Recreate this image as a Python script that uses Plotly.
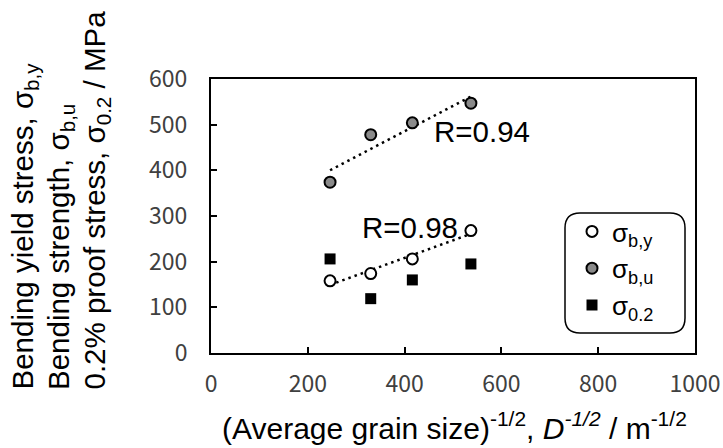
import numpy as np
import plotly.graph_objects as go

# Data
x_vals = [246, 330, 416, 537]
sigma_by = [158, 174, 206, 268]     # bending yield stress (open circles)
sigma_bu = [374, 478, 504, 547]     # bending strength (grey circles)
sigma_02 = [206, 119, 160, 195]     # 0.2% proof stress (black squares)
legend_names = ["σ<sub>b,y</sub>", "σ<sub>b,u</sub>", "σ<sub>0.2</sub>"]
x_ticks = [0, 200, 400, 600, 800, 1000]
y_ticks = [0, 100, 200, 300, 400, 500, 600]

W, H = 723, 448
L, R, T, B = 211, 28, 79, 95
PW, PH = W - L - R, H - T - B

def px_x(p):
    return (p - L) / PW

def px_y(p):
    return (H - B - p) / PH

TXT = "Liberation Sans, Arial, sans-serif"
TICKF = "Noto Sans CJK JP, sans-serif"
FS = 29.5

fig = go.Figure()

xs = np.array(x_vals, dtype=float)
xl = np.array([xs.min(), xs.max()])
for ys in (sigma_bu, sigma_by):
    k, b = np.polyfit(xs, np.array(ys, dtype=float), 1)
    fig.add_trace(go.Scatter(x=xl, y=k * xl + b, mode="lines",
                             line=dict(color="black", width=2.5, dash="2.5px,4px"),
                             showlegend=False, hoverinfo="skip"))

fig.add_trace(go.Scatter(x=x_vals, y=sigma_by, mode="markers", name=legend_names[0],
                         marker=dict(symbol="circle", size=11, color="white",
                                     line=dict(color="black", width=2))))
fig.add_trace(go.Scatter(x=x_vals, y=sigma_bu, mode="markers", name=legend_names[1],
                         marker=dict(symbol="circle", size=11, color="#8a8a8a",
                                     line=dict(color="black", width=2))))
fig.add_trace(go.Scatter(x=x_vals, y=sigma_02, mode="markers", name=legend_names[2],
                         marker=dict(symbol="square", size=11, color="black",
                                     line=dict(color="black", width=0))))

# rounded legend frame
x0, x1 = px_x(565), px_x(685)
y0, y1 = px_y(333), px_y(213)
rx, ry = 15 / PW, 15 / PH
path = (f"M {x0+rx},{y1} L {x1-rx},{y1} Q {x1},{y1} {x1},{y1-ry} "
        f"L {x1},{y0+ry} Q {x1},{y0} {x1-rx},{y0} L {x0+rx},{y0} "
        f"Q {x0},{y0} {x0},{y0+ry} L {x0},{y1-ry} Q {x0},{y1} {x0+rx},{y1} Z")
fig.add_shape(type="path", path=path, xref="paper", yref="paper",
              line=dict(color="black", width=1.5), fillcolor="rgba(0,0,0,0)")

ann = [
    dict(x=482, y=131, text="R=0.94"),
    dict(x=410, y=228, text="R=0.98"),
]
for a in ann:
    fig.add_annotation(x=px_x(a["x"]), y=px_y(a["y"]), xref="paper", yref="paper",
                       text=a["text"], showarrow=False, xanchor="center", yanchor="middle",
                       font=dict(family=TXT, size=FS, color="black"))

ytitles = ["Bending yield stress, σ<sub>b,y</sub>",
           "Bending strength, σ<sub>b,u</sub>",
           "0.2% proof stress, σ<sub>0.2</sub> / MPa"]
for xc, t in zip([24, 60, 96], ytitles):
    fig.add_annotation(x=px_x(xc), y=px_y(392), xref="paper", yref="paper",
                       text=t, showarrow=False, textangle=-90,
                       xanchor="center", yanchor="bottom",
                       font=dict(family=TXT, size=FS, color="black"))

fig.add_annotation(x=px_x(454), y=px_y(426), xref="paper", yref="paper",
                   text="(Average grain size)<sup>-1/2</sup>, <i>D</i><sup><i>-1/2</i></sup> / m<sup>-1/2</sup>",
                   showarrow=False, xanchor="center", yanchor="middle",
                   font=dict(family=TXT, size=30, color="black"))

axis_common = dict(showline=True, linecolor="black", linewidth=2, mirror=True,
                   ticks="inside", ticklen=6, tickwidth=1.5, tickcolor="black",
                   showgrid=False, zeroline=False, automargin=False,
                   tickfont=dict(family=TICKF, size=23, color="#404040"))

fig.update_xaxes(range=[0, 1000], tickvals=x_ticks, ticklabelstandoff=9, **axis_common)
fig.update_yaxes(range=[0, 600], tickvals=y_ticks, ticklabelstandoff=17, **axis_common)

fig.update_layout(
    width=W, height=H, autosize=False,
    margin=dict(l=L, r=R, t=T, b=B, pad=0, autoexpand=False),
    paper_bgcolor="white", plot_bgcolor="white",
    showlegend=True,
    legend=dict(x=px_x(572), y=px_y(208), xanchor="left", yanchor="top",
                bgcolor="rgba(0,0,0,0)", borderwidth=0,
                font=dict(family=TXT, size=26, color="black"),
                tracegroupgap=0, itemwidth=30),
)

fig.write_html("out.html",
               config={"displayModeBar": False, "responsive": False},
               post_script="document.body.style.margin='0px';document.body.style.overflow='hidden';")
